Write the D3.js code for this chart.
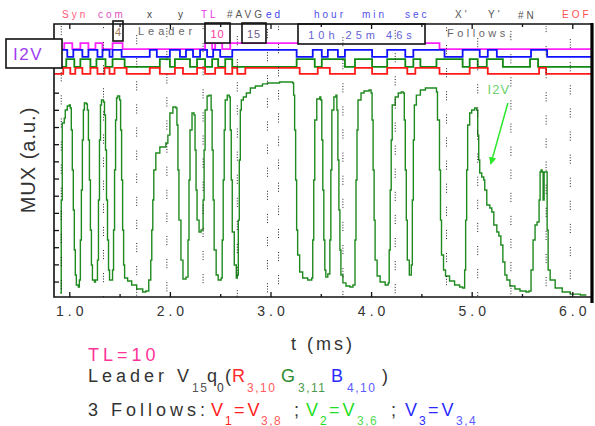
<!DOCTYPE html>
<html>
<head>
<meta charset="utf-8">
<script src="https://cdn.jsdelivr.net/npm/d3@7"></script>
<style>
  body { margin: 0; background: #fff; }
  svg { display: block; font-family: Arial, "Liberation Sans", sans-serif; }
</style>
</head>
<body>
<div id="chart"></div>
<script>

// MUX analog trace: [t (ms), level (a.u.)]
var muxTrace = [
  [0.91,0.33],[0.92,2.84],[0.92,5.75],[0.93,8.66],[0.93,10.23],[0.95,10.52],[0.96,10.99],[0.98,11.22],[1.00,11.28],[1.01,11.11],
  [1.02,9.83],[1.03,7.50],[1.04,5.17],[1.05,2.84],[1.06,1.38],[1.07,0.80],[1.09,0.68],[1.10,1.09],[1.11,3.42],[1.12,6.33],
  [1.13,9.24],[1.14,10.99],[1.15,11.40],[1.17,11.34],[1.18,10.99],[1.19,9.24],[1.20,6.91],[1.21,4.00],[1.22,1.96],[1.23,1.09],
  [1.25,0.97],[1.26,1.09],[1.28,2.25],[1.29,5.75],[1.30,9.24],[1.31,11.28],[1.32,11.57],[1.34,11.46],[1.35,10.70],[1.36,8.66],
  [1.37,5.75],[1.38,3.42],[1.39,1.67],[1.40,1.09],[1.41,1.09],[1.43,1.67],[1.44,4.00],[1.45,7.50],[1.46,10.41],[1.47,11.69],
  [1.48,11.81],[1.50,11.57],[1.51,9.83],[1.52,6.91],[1.53,4.00],[1.54,1.96],[1.55,1.21],[1.58,1.03],[1.62,0.80],[1.67,0.57],
  [1.73,0.39],[1.76,0.45],[1.79,1.09],[1.81,2.25],[1.82,4.00],[1.83,5.75],[1.84,7.50],[1.86,8.49],[1.90,8.84],[1.96,9.07],
  [1.98,9.53],[2.00,10.82],[2.03,11.17],[2.06,11.11],[2.07,10.12],[2.08,7.50],[2.09,4.58],[2.11,2.25],[2.13,1.15],[2.16,1.26],
  [2.18,3.42],[2.19,6.91],[2.20,9.83],[2.22,10.82],[2.24,10.70],[2.25,8.66],[2.26,6.33],[2.27,4.58],[2.29,3.89],[2.31,4.00],
  [2.33,5.75],[2.34,8.66],[2.35,10.99],[2.37,11.81],[2.39,11.86],[2.41,10.99],[2.42,8.66],[2.43,5.75],[2.44,2.84],[2.46,1.38],
  [2.48,1.09],[2.51,1.21],[2.52,3.42],[2.53,6.91],[2.54,9.83],[2.55,11.57],[2.57,11.86],[2.59,11.75],[2.60,9.83],[2.61,6.91],
  [2.62,3.89],[2.64,1.96],[2.66,1.21],[2.67,1.38],[2.68,4.58],[2.69,8.08],[2.70,10.99],[2.71,11.57],[2.73,11.75],[2.76,11.98],
  [2.80,12.27],[2.85,12.39],[2.92,12.51],[2.97,12.56],[3.09,12.62],[3.19,12.62],[3.22,12.56],[3.23,11.86],[3.24,9.83],[3.25,6.91],
  [3.26,4.00],[3.27,2.55],[3.29,1.56],[3.32,1.21],[3.37,1.09],[3.41,1.21],[3.42,3.42],[3.43,6.91],[3.44,10.41],[3.46,11.63],
  [3.49,11.75],[3.50,11.57],[3.51,9.24],[3.52,6.33],[3.53,3.42],[3.54,1.67],[3.55,1.26],[3.57,1.44],[3.59,3.42],[3.60,7.50],
  [3.61,10.99],[3.63,11.75],[3.65,11.86],[3.66,10.99],[3.67,8.08],[3.68,5.17],[3.69,2.84],[3.70,1.38],[3.72,0.92],[3.75,0.74],
  [3.79,0.68],[3.82,0.80],[3.84,3.42],[3.85,6.91],[3.86,9.83],[3.87,11.57],[3.90,11.98],[3.93,12.10],[3.98,12.16],[4.00,11.98],
  [4.01,10.41],[4.02,7.50],[4.03,4.58],[4.04,2.25],[4.06,1.32],[4.09,0.97],[4.14,0.80],[4.17,0.92],[4.18,2.84],[4.19,6.33],
  [4.20,9.24],[4.21,11.28],[4.24,11.75],[4.27,11.98],[4.30,12.04],[4.32,11.98],[4.33,10.41],[4.34,7.50],[4.35,4.58],[4.36,2.25],
  [4.38,1.38],[4.40,1.96],[4.41,5.75],[4.42,9.24],[4.43,11.28],[4.45,11.86],[4.49,12.16],[4.54,12.27],[4.61,12.27],[4.65,12.04],
  [4.66,10.41],[4.68,7.50],[4.69,4.58],[4.70,2.55],[4.72,1.67],[4.74,1.32],[4.78,1.03],[4.83,0.80],[4.88,0.68],[4.91,0.62],
  [4.93,1.67],[4.94,4.58],[4.95,7.50],[4.96,10.12],[4.98,10.82],[5.00,10.99],[5.03,11.11],[5.05,10.99],[5.06,9.53],[5.07,8.08],
  [5.08,7.32],[5.10,7.09],[5.12,6.91],[5.13,6.33],[5.15,5.46],[5.18,5.28],[5.20,5.05],[5.22,4.29],[5.25,3.89],[5.27,3.65],
  [5.29,3.13],[5.31,2.14],[5.33,1.38],[5.35,1.09],[5.38,0.74],[5.43,0.57],[5.48,0.45],[5.54,0.39],[5.57,0.45],[5.59,1.67],
  [5.61,3.42],[5.63,4.29],[5.65,4.47],[5.67,5.75],[5.68,7.38],[5.69,7.50],[5.70,7.38],[5.71,5.75],[5.72,7.38],[5.74,7.38],
  [5.75,4.00],[5.76,1.67],[5.78,1.09],[5.83,0.62],[5.90,0.39],[5.98,0.27],[6.08,0.22],[6.14,0.22]
];

// digital channels: start time, start state, toggle times (ms)
var magentaStart = [0.93, 0];
var magentaToggles = [0.95,1.03,1.11,1.19,1.26,1.33,1.43,1.53,2.35,2.42,2.45,2.52,2.60,4.68];
var blueStart = [0.93, 1];
var blueToggles = [0.98,1.04,1.13,1.19,1.28,1.33,1.40,1.43,1.52,1.80,1.87,2.00,2.10,2.16,2.23,2.30,2.37,2.43,2.50,2.62,
  3.26,3.42,3.51,3.57,3.67,3.74,4.01,4.16,4.34,4.42,4.73,4.91,5.08,5.16,5.25,5.59,5.75];
var greenStart = [0.93, 0];
var greenToggles = [0.97,1.05,1.11,1.21,1.27,1.36,1.43,1.55,1.90,2.00,2.05,2.20,2.27,2.35,2.42,2.48,2.55,2.62,3.26,3.44,
  3.51,3.74,3.84,4.01,4.16,4.34,4.42,4.49,4.65,4.91,4.98,5.06,5.15,5.31,5.58,5.66];
var redStart = [0.85, 0];
var redToggles = [0.94,1.01,1.06,1.13,1.21,1.28,1.35,1.40,1.45,1.57,1.80,1.90,2.05,2.13,2.27,2.35,2.45,2.55,2.62,2.67,
  2.75,3.29,3.47,3.59,3.84,4.01,4.16,4.36,4.44,4.68,4.98,5.16,5.67,5.74];
var traceEnd = 6.19;

// dotted marker lines (ms)
var markerTimes = [0.92,1.34,1.67,1.97,2.33,2.67,2.97,3.08,3.72,4.24,4.75,5.06,5.39,5.74,5.98];

// axis ticks
var xMajor = [1, 2, 3, 4, 5, 6];
var xMinor = [1.5, 2.5, 3.5, 4.5, 5.5];
var yTicks = [1,2,3,4,5,6,7,8,9,10,11,12];

// header labels
var headerWords = ["Syn","com","x","y","TL","#AVG","ed","hour","min","sec","X'","Y'","#N","EOF"];

// annotation
var arrowFrom = [5.36, 11.40], arrowTo = [5.19, 7.85];

var width = 595, height = 426;
var plot = {left: 54, right: 592, top: 24, bottom: 297};

var svg = d3.select("#chart").append("svg")
    .attr("width", width)
    .attr("height", height);

var x = d3.scaleLinear().domain([0.848, 6.196]).range([plot.left, plot.right]);
var y = d3.scaleLinear().domain([0.1, 16]).range([plot.bottom, plot.top]);

// arrow marker
svg.append("defs").append("marker")
    .attr("id", "arr")
    .attr("viewBox", "0 0 10 10")
    .attr("refX", 9).attr("refY", 5)
    .attr("markerWidth", 5).attr("markerHeight", 5)
    .attr("orient", "auto")
  .append("path")
    .attr("d", "M0,0L10,5L0,10z")
    .attr("fill", "#2ee82e");

var boxes = [
  {x: 113, y: 21, w: 10, h: 20, label: "4", color: "#a07a55", tx: 118, ls: 0},
  {x: 205, y: 23, w: 25, h: 20, label: "10", color: "#ff3399", tx: 217.5, ls: 1},
  {x: 242, y: 23, w: 24, h: 20, label: "15", color: "#6a5a8a", tx: 254, ls: 1},
  {x: 298, y: 24, w: 127, h: 20, label: "10h 25m 46s", color: "#6262d6", tx: 362, ls: 4}
];

// analog trace
var line = d3.line()
    .x(function(d) { return x(d[0]); })
    .y(function(d) { return y(d[1]); })
    .curve(d3.curveStepAfter);

svg.append("path")
    .datum(muxTrace)
    .attr("d", line)
    .attr("fill", "none")
    .attr("stroke", "#1f8a1f")
    .attr("stroke-width", 1.4);

// digital traces
var channels = [
  {start: magentaStart, toggles: magentaToggles, lo: 14.54, hi: 14.89, color: "#ff22ff"},
  {start: blueStart, toggles: blueToggles, lo: 14.08, hi: 14.49, color: "#1010ff"},
  {start: greenStart, toggles: greenToggles, lo: 13.50, hi: 13.96, color: "#108a10"},
  {start: redStart, toggles: redToggles, lo: 13.09, hi: 13.44, color: "#ff1a1a"}
];

channels.forEach(function(c) {
  var s = c.start[1];
  var pts = [[c.start[0], s]];
  c.toggles.forEach(function(t) {
    s = 1 - s;
    pts.push([t, s]);
  });
  pts.push([traceEnd, s]);
  var dl = d3.line()
      .x(function(d) { return x(d[0]); })
      .y(function(d) { return y(d[1] ? c.hi : c.lo); })
      .curve(d3.curveStepAfter);
  svg.append("path")
      .datum(pts)
      .attr("d", dl)
      .attr("fill", "none")
      .attr("stroke", c.color)
      .attr("stroke-width", 1.8);
});

// header boxes
var bx = svg.append("g").selectAll("g").data(boxes).enter().append("g");
bx.append("rect")
    .attr("x", function(d) { return d.x; })
    .attr("y", function(d) { return d.y; })
    .attr("width", function(d) { return d.w; })
    .attr("height", function(d) { return d.h; })
    .attr("fill", "#fff")
    .attr("stroke", "#111")
    .attr("stroke-width", 1.6);
bx.append("text")
    .attr("x", function(d) { return d.tx; })
    .attr("y", function(d) { return d.y + 14.5; })
    .attr("text-anchor", "middle")
    .attr("font-size", 11)
    .attr("letter-spacing", function(d) { return d.ls; })
    .attr("fill", function(d) { return d.color; })
    .text(function(d) { return d.label; });

svg.append("text").attr("x", 138).attr("y", 35).attr("font-size", 11)
    .attr("letter-spacing", 4).attr("fill", "#666").text("Leader");
svg.append("text").attr("x", 447).attr("y", 37).attr("font-size", 11)
    .attr("letter-spacing", 3.5).attr("fill", "#666").text("Follows.");

// dotted marker lines
svg.append("g").selectAll("line")
    .data(markerTimes)
    .enter().append("line")
      .attr("x1", function(d) { return x(d); })
      .attr("x2", function(d) { return x(d); })
      .attr("y1", plot.top + 2)
      .attr("y2", plot.bottom)
      .attr("stroke", "#222")
      .attr("stroke-width", 1)
      .attr("stroke-dasharray", "1,1.7,1,1.7,1,1.7,1,14")
      .attr("stroke-dashoffset", function(d, i) { return (i * 7) % 22; });

// axes (ticks pointing inward)
function styleAxis(g) {
  g.select(".domain").remove();
  g.selectAll(".tick line").attr("stroke", "#111").attr("stroke-width", 1.3);
}

svg.append("g")
    .attr("transform", "translate(0," + plot.bottom + ")")
    .call(d3.axisBottom(x).tickValues(xMajor).tickSizeInner(-5).tickSizeOuter(0)
      .tickPadding(9).tickFormat(d3.format(".1f")))
    .call(styleAxis)
    .call(function(g) {
      g.selectAll("text")
        .attr("font-size", 14)
        .attr("font-family", "Arial, 'Liberation Sans', sans-serif")
        .attr("letter-spacing", 4)
        .attr("dx", 2)
        .attr("fill", "#333");
    });
svg.append("g")
    .attr("transform", "translate(0," + plot.bottom + ")")
    .call(d3.axisBottom(x).tickValues(xMinor).tickSizeInner(-3).tickSizeOuter(0).tickFormat(""))
    .call(styleAxis);
svg.append("g")
    .attr("transform", "translate(0," + plot.top + ")")
    .call(d3.axisTop(x).tickValues(xMajor).tickSizeInner(-5).tickSizeOuter(0).tickFormat(""))
    .call(styleAxis);
svg.append("g")
    .attr("transform", "translate(0," + plot.top + ")")
    .call(d3.axisTop(x).tickValues(xMinor).tickSizeInner(-3).tickSizeOuter(0).tickFormat(""))
    .call(styleAxis);
svg.append("g")
    .attr("transform", "translate(" + plot.left + ",0)")
    .call(d3.axisLeft(y).tickValues(yTicks).tickSizeInner(-5).tickSizeOuter(0).tickFormat(""))
    .call(styleAxis);

// frame
svg.append("path")
    .attr("d", "M" + plot.right + "," + plot.top + "H" + plot.left + "V" + plot.bottom + "H" + plot.right)
    .attr("fill", "none")
    .attr("stroke", "#111")
    .attr("stroke-width", 1.6);
svg.append("line")
    .attr("x1", plot.right).attr("x2", plot.right)
    .attr("y1", plot.top - 1).attr("y2", plot.bottom + 6)
    .attr("stroke", "#000")
    .attr("stroke-width", 3.2);

// I2V box
svg.append("rect")
    .attr("x", 6).attr("y", 39).attr("width", 56).attr("height", 29)
    .attr("fill", "#fff").attr("stroke", "#111").attr("stroke-width", 1.6);
svg.append("text")
    .attr("x", 13).attr("y", 60)
    .attr("font-size", 17).attr("letter-spacing", 1.5)
    .attr("fill", "#a03cf0")
    .text("I2V");

// header row
var headerX = [62, 98, 147, 178, 201, 227, 266, 314, 362, 405, 455, 488, 518, 562];
var headerColor = ["#ff5a7a","#e050c0","#444","#444","#e833e8","#555","#4444ee","#5050ee","#5050ee","#5050ee","#555","#555","#555","#ff4f4f"];
svg.append("g").selectAll("text")
    .data(headerWords)
    .enter().append("text")
      .attr("x", function(d, i) { return headerX[i]; })
      .attr("y", function(d, i) { return d === "#N" ? 19 : 18; })
      .attr("font-size", 10)
      .attr("letter-spacing", 3)
      .attr("fill", function(d, i) { return headerColor[i]; })
      .text(function(d) { return d; });

// I2V annotation
svg.append("text")
    .attr("x", x(5.27)).attr("y", y(11.92))
    .attr("text-anchor", "middle")
    .attr("font-size", 13).attr("letter-spacing", 1)
    .attr("fill", "#6ccf6c")
    .text("I2V");
svg.append("line")
    .attr("x1", x(arrowFrom[0])).attr("y1", y(arrowFrom[1]))
    .attr("x2", x(arrowTo[0])).attr("y2", y(arrowTo[1]))
    .attr("stroke", "#2ee82e").attr("stroke-width", 1.5)
    .attr("marker-end", "url(#arr)");

// axis titles
svg.append("text")
    .attr("x", 323).attr("y", 350)
    .attr("text-anchor", "middle")
    .attr("font-size", 18).attr("letter-spacing", 3)
    .attr("fill", "#333")
    .text("t (ms)");
svg.append("text")
    .attr("transform", "translate(35,160) rotate(-90)")
    .attr("text-anchor", "middle")
    .attr("font-size", 20).attr("letter-spacing", 1)
    .attr("fill", "#333")
    .text("MUX (a.u.)");

// caption lines: parts are [text, colour, isSubscript, left x]
function richLine(yPos, subDrop, parts) {
  var t = svg.append("text")
      .attr("y", yPos)
      .attr("font-size", 18);
  parts.forEach(function(p) {
    var ls = p[0].length < 2 ? 0 : (p[2] ? 1.5 : (p[0] === "=V" ? 3 : 4));
    t.append("tspan")
        .attr("x", p[3])
        .attr("y", p[2] ? yPos + subDrop : yPos)
        .attr("fill", p[1])
        .attr("font-size", p[2] ? 12 : null)
        .attr("letter-spacing", ls)
        .text(p[0]);
  });
}

svg.append("text")
    .attr("x", 88).attr("y", 361)
    .attr("font-size", 18).attr("letter-spacing", 4)
    .attr("fill", "#ff3399")
    .text("TL=10");

richLine(382, 9.5, [
  ["Leader V", "#333", 0, 88], ["15", "#555", 1, 192], ["q", "#333", 0, 207], ["0", "#333", 1, 217],
  ["(", "#333", 0, 225], ["R", "#ff2a2a", 0, 232], ["3,10", "#ff5a5a", 1, 247],
  ["G", "#2e8b2e", 0, 281], ["3,11", "#4a9a4a", 1, 298],
  ["B", "#2a2aff", 0, 331], ["4,10", "#5a5aff", 1, 347], [")", "#333", 0, 382]
]);

richLine(416, 8.5, [
  ["3 Follows:", "#333", 0, 88], ["V", "#ff2020", 0, 211], ["1", "#ff2020", 1, 225],
  ["=V", "#ff2020", 0, 234], ["3,8", "#ff5a5a", 1, 261], [";", "#333", 0, 294],
  ["V", "#22dd22", 0, 306], ["2", "#22dd22", 1, 320], ["=V", "#22dd22", 0, 329], ["3,6", "#55dd55", 1, 357],
  [";", "#333", 0, 391], ["V", "#2a2aff", 0, 405], ["3", "#2a2aff", 1, 419], ["=V", "#2a2aff", 0, 428],
  ["3,4", "#5a5aff", 1, 456]
]);

</script>
</body>
</html>
